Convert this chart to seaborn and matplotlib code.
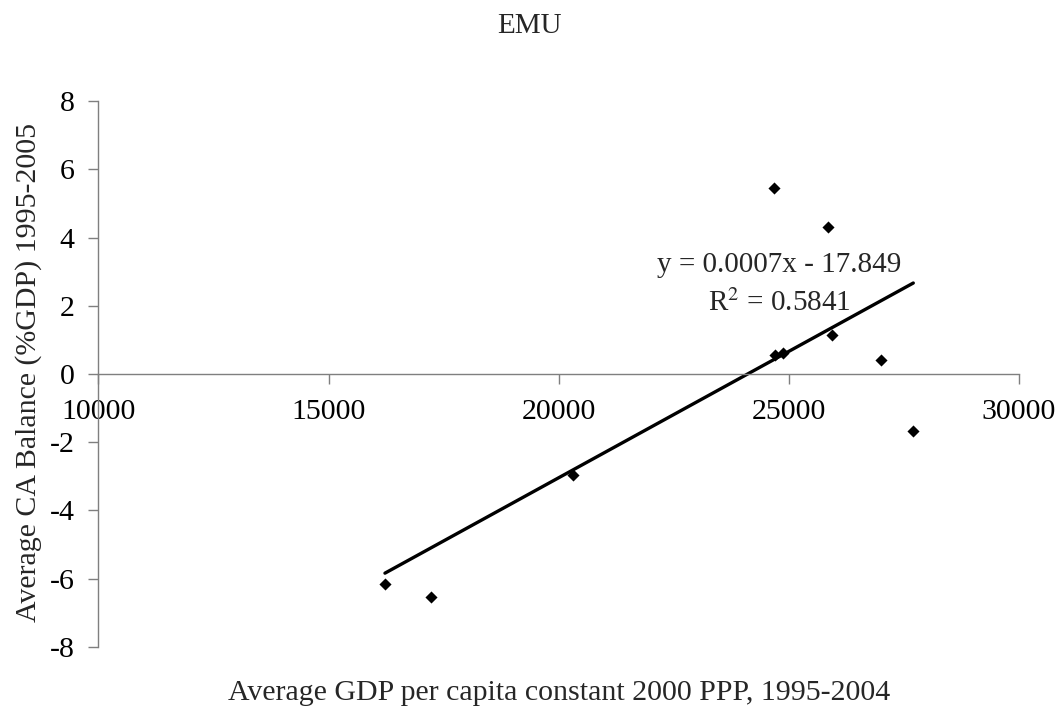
import numpy as np
import pandas as pd
import matplotlib
matplotlib.use("Agg")
import matplotlib.pyplot as plt
import seaborn as sns

# -----------------------------
# Data
# -----------------------------
gdp_per_capita = [16226, 17219, 20304, 24684, 25851, 25944, 24706, 24880, 27009, 27704]
ca_balance = [-6.14, -6.54, -2.95, 5.44, 4.31, 1.14, 0.55, 0.62, 0.41, -1.67]
x_ticks = [10000, 15000, 20000, 25000, 30000]
y_ticks = [-8, -6, -4, -2, 0, 2, 4, 6, 8]

df = pd.DataFrame({"gdp": gdp_per_capita, "ca": ca_balance})

# -----------------------------
# Theme
# -----------------------------
sns.set_style("white")
plt.rcParams["font.family"] = ["Liberation Serif", "DejaVu Serif"]
plt.rcParams["mathtext.fontset"] = "stix"
plt.rcParams["axes.unicode_minus"] = False

FS = 21.5

fig = plt.figure(figsize=(10.6, 7.13), dpi=100)
ax = fig.add_axes([0.0928, 0.0926, 0.8685, 0.7657])

sns.regplot(data=df, x="gdp", y="ca", scatter=False, ci=None, truncate=True,
            color="black", line_kws={"linewidth": 2.4}, ax=ax)
sns.scatterplot(data=df, x="gdp", y="ca", marker="D", s=38, color="black",
                edgecolor="black", linewidth=0, ax=ax, zorder=3)

ax.set_xlim(10000, 30000)
ax.set_ylim(-8, 8)
ax.set_xticks(x_ticks)
ax.set_yticks(y_ticks)

# Excel-style axes: y axis at left, x axis crossing at y = 0
for side in ["top", "right"]:
    ax.spines[side].set_visible(False)
ax.spines["bottom"].set_position(("data", 0))
for side in ["left", "bottom"]:
    ax.spines[side].set_color("#7f7f7f")
    ax.spines[side].set_linewidth(1.0)

ax.tick_params(axis="both", which="major", direction="out", length=7, width=1.0,
               color="#7f7f7f", labelsize=FS, labelcolor="black")
ax.tick_params(axis="y", left=True, pad=10)
ax.tick_params(axis="x", bottom=True, pad=11)

ax.set_xlabel("Average GDP per capita constant 2000 PPP, 1995-2004", fontsize=FS)
ax.set_ylabel("Average CA Balance (%GDP) 1995-2005", fontsize=FS)
ax.xaxis.set_label_coords(559 / 1060, 1 - 693 / 713, transform=fig.transFigure)
ax.xaxis.label.set_va("center")
ax.yaxis.set_label_coords(29 / 1060, 0.5 - (372 - 356.5) / 713, transform=fig.transFigure)
ax.yaxis.label.set_va("center")

fig.text(529 / 1060, 1 - 26 / 713, "EMU", ha="center", va="center", fontsize=21)

ax.text(24800, 3.18, "y = 0.0007x - 17.849", ha="center", va="center", fontsize=21)
ax.text(24800, 2.08, r"R$^2$ = 0.5841", ha="center", va="center", fontsize=21)

fig.savefig("out.png", dpi=100)
